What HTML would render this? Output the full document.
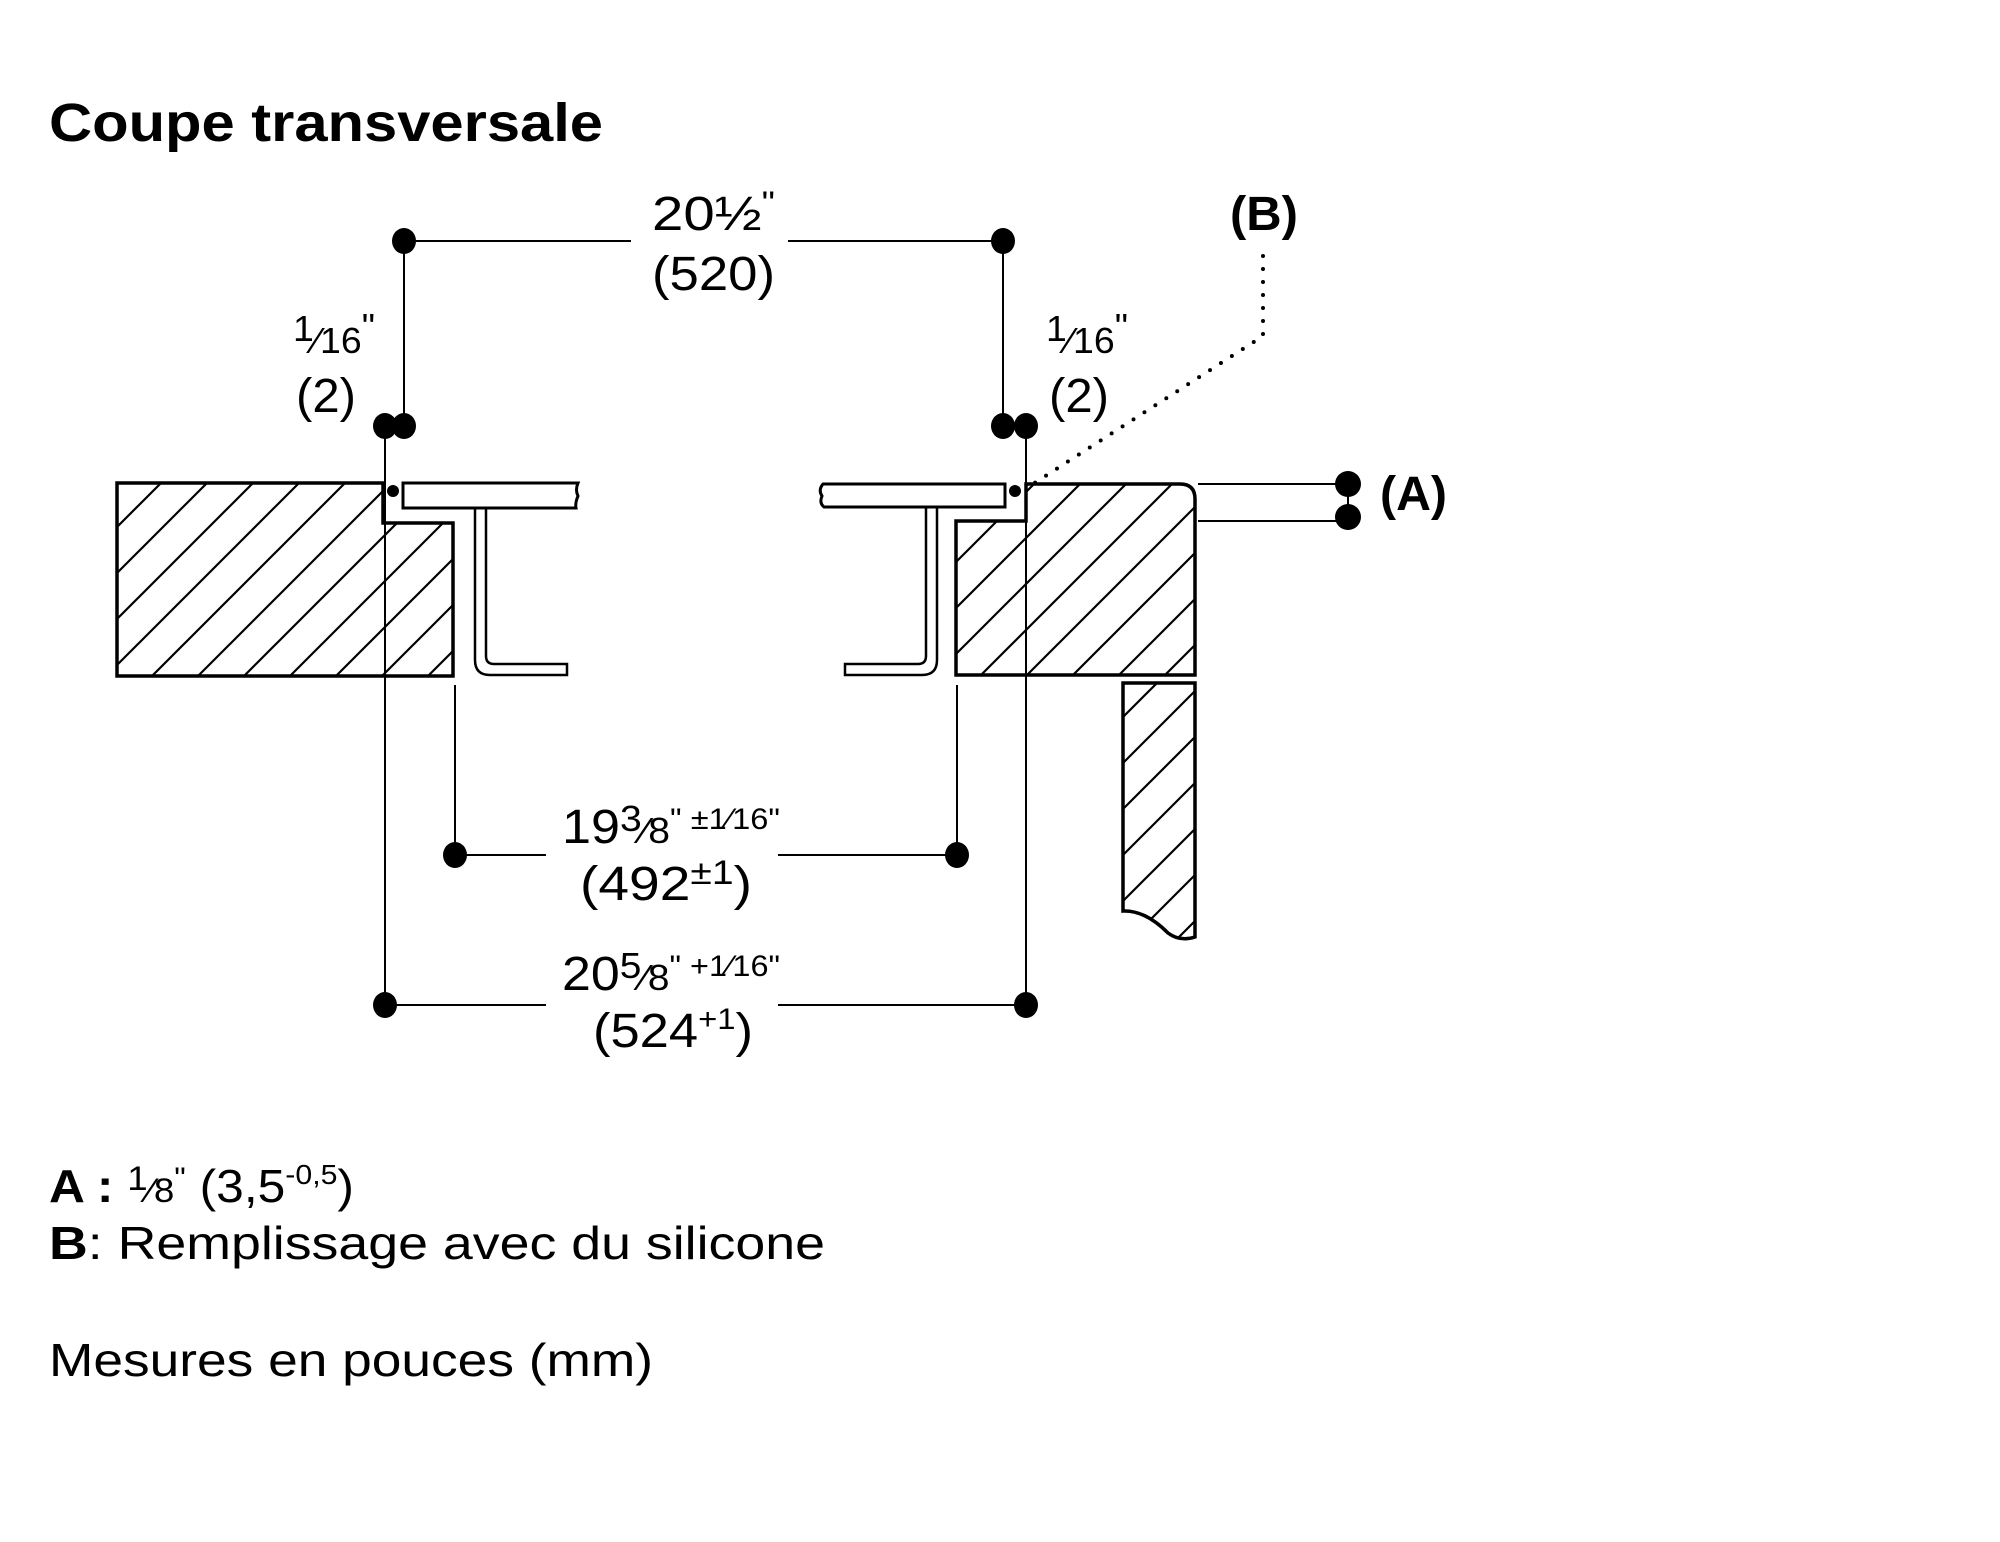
<!DOCTYPE html>
<html><head><meta charset="utf-8"><style>html,body{margin:0;padding:0;background:#fff}svg{display:block}</style></head>
<body>
<svg width="2000" height="1542" viewBox="0 0 2000 1542" xmlns="http://www.w3.org/2000/svg" font-family="Liberation Sans, Arial, sans-serif">
<defs>
<pattern id="h" width="46" height="46" patternUnits="userSpaceOnUse">
<path d="M0,46 L46,0 M-10,10 L10,-10 M36,56 L56,36" stroke="#000" stroke-width="2.2"/>
</pattern>
</defs>
<rect width="2000" height="1542" fill="#fff"/>
<text x="49" y="141" font-size="54" font-weight="bold" textLength="554" lengthAdjust="spacingAndGlyphs">Coupe transversale</text>

<path d="M117,483 L383,483 L383,523 L453,523 L453,676 L117,676 Z" fill="url(#h)" stroke="#000" stroke-width="3.5"/>
<path d="M403,483 L578,483 Q575,490 578,496 Q575,503 576,508 L403,508 Z" fill="#fff" stroke="#000" stroke-width="3"/>
<path d="M475,508 L475,660 Q475,675 490,675 L567,675 L567,664 L494,664 Q486,664 486,656 L486,508" fill="none" stroke="#000" stroke-width="2.5"/>
<circle cx="393" cy="491" r="6"/>

<path d="M1026,484 L1180,484 Q1195,484 1195,499 L1195,675 L956,675 L956,521 L1026,521 Z" fill="url(#h)" stroke="#000" stroke-width="3.5"/>
<path d="M1123,683 L1195,683 L1195,937 Q1180,942 1168,933 Q1145,910 1123,911 Z" fill="url(#h)" stroke="#000" stroke-width="3.5"/>
<path d="M1005,484 L823,484 Q818,490 822,496 Q819,503 824,507 L1005,507 Z" fill="#fff" stroke="#000" stroke-width="3"/>
<path d="M937,507 L937,660 Q937,675 922,675 L845,675 L845,664 L918,664 Q926,664 926,656 L926,507" fill="none" stroke="#000" stroke-width="2.5"/>
<circle cx="1015" cy="491" r="6"/>

<g stroke="#000" stroke-width="2" fill="none">
<line x1="404" y1="241" x2="631" y2="241"/>
<line x1="788" y1="241" x2="1003" y2="241"/>
<line x1="404" y1="241" x2="404" y2="426"/>
<line x1="1003" y1="241" x2="1003" y2="426"/>
<line x1="385" y1="426" x2="385" y2="1005"/>
<line x1="1026" y1="426" x2="1026" y2="1005"/>
<line x1="455" y1="685" x2="455" y2="855"/>
<line x1="957" y1="685" x2="957" y2="855"/>
<line x1="455" y1="855" x2="546" y2="855"/>
<line x1="778" y1="855" x2="957" y2="855"/>
<line x1="385" y1="1005" x2="546" y2="1005"/>
<line x1="778" y1="1005" x2="1026" y2="1005"/>
<line x1="1198" y1="484" x2="1348" y2="484"/>
<line x1="1198" y1="521" x2="1348" y2="521"/>
<line x1="1348" y1="484" x2="1348" y2="517"/>
<polyline points="1263,256 1263,336 1033,484" stroke-width="4" stroke-dasharray="0 13" stroke-linecap="round"/>
</g>

<g fill="#000">
<ellipse cx="404" cy="241" rx="12" ry="13"/>
<ellipse cx="1003" cy="241" rx="12" ry="13"/>
<ellipse cx="385" cy="426" rx="12" ry="13"/>
<ellipse cx="404" cy="426" rx="12" ry="13"/>
<ellipse cx="1003" cy="426" rx="12" ry="13"/>
<ellipse cx="1026" cy="426" rx="12" ry="13"/>
<ellipse cx="455" cy="855" rx="12" ry="13"/>
<ellipse cx="957" cy="855" rx="12" ry="13"/>
<ellipse cx="385" cy="1005" rx="12" ry="13"/>
<ellipse cx="1026" cy="1005" rx="12" ry="13"/>
<ellipse cx="1348" cy="484" rx="13" ry="13"/>
<ellipse cx="1348" cy="517" rx="13" ry="13"/>
</g>

<g font-size="48">
<text x="652" y="230" textLength="123" lengthAdjust="spacingAndGlyphs">20½<tspan font-size="32" dy="-16">"</tspan></text>
<text x="652" y="290" textLength="123" lengthAdjust="spacingAndGlyphs">(520)</text>
<text x="293" y="353" font-size="36" textLength="82" lengthAdjust="spacingAndGlyphs"><tspan dy="-12">1</tspan><tspan dy="12">⁄16</tspan><tspan dy="-14">"</tspan></text>
<text x="296" y="412" textLength="60" lengthAdjust="spacingAndGlyphs">(2)</text>
<text x="1046" y="353" font-size="36" textLength="82" lengthAdjust="spacingAndGlyphs"><tspan dy="-12">1</tspan><tspan dy="12">⁄16</tspan><tspan dy="-14">"</tspan></text>
<text x="1049" y="412" textLength="60" lengthAdjust="spacingAndGlyphs">(2)</text>
<text x="562" y="843" textLength="218" lengthAdjust="spacingAndGlyphs">19<tspan font-size="36" dy="-12">3</tspan><tspan font-size="36" dy="12">⁄8</tspan><tspan font-size="30" dy="-14">" ±1⁄16"</tspan></text>
<text x="580" y="900" textLength="172" lengthAdjust="spacingAndGlyphs">(492<tspan font-size="34" dy="-16">±1</tspan><tspan dy="16">)</tspan></text>
<text x="562" y="990" textLength="218" lengthAdjust="spacingAndGlyphs">20<tspan font-size="36" dy="-12">5</tspan><tspan font-size="36" dy="12">⁄8</tspan><tspan font-size="30" dy="-14">" +1⁄16"</tspan></text>
<text x="593" y="1047" textLength="160" lengthAdjust="spacingAndGlyphs">(524<tspan font-size="30" dy="-18">+1</tspan><tspan dy="18">)</tspan></text>
<text x="1230" y="230" font-weight="bold" textLength="68" lengthAdjust="spacingAndGlyphs">(B)</text>
<text x="1380" y="510" font-weight="bold" textLength="67" lengthAdjust="spacingAndGlyphs">(A)</text>
</g>

<g font-size="46">
<text x="49" y="1202" textLength="305" lengthAdjust="spacingAndGlyphs"><tspan font-weight="bold">A :</tspan> <tspan font-size="34" dy="-12">1</tspan><tspan font-size="34" dy="12">⁄8</tspan><tspan font-size="30" dy="-14">"</tspan><tspan dy="14"> (3,5</tspan><tspan font-size="28" dy="-18">-0,5</tspan><tspan dy="18">)</tspan></text>
<text x="49" y="1259" textLength="776" lengthAdjust="spacingAndGlyphs"><tspan font-weight="bold">B</tspan>: Remplissage avec du silicone</text>
<text x="49" y="1376" textLength="604" lengthAdjust="spacingAndGlyphs">Mesures en pouces (mm)</text>
</g>
</svg>
</body></html>
